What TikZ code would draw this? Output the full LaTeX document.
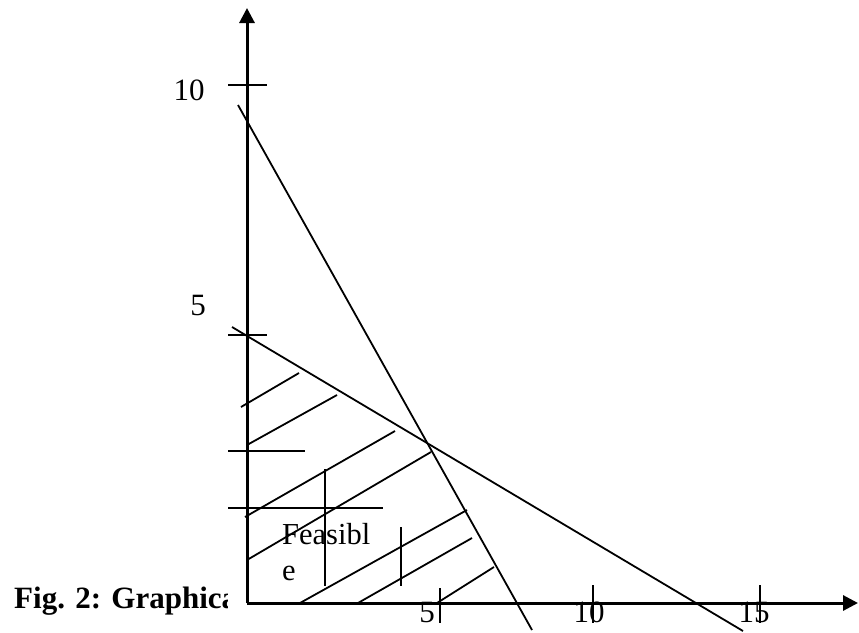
\documentclass[tikz,border=0pt]{standalone}
\usepackage{fontspec}
\setmainfont{Liberation Serif}
\usetikzlibrary{arrows.meta}
\begin{document}
\begin{tikzpicture}[x=1pt,y=-1pt,
  axisline/.style={line width=3pt,-{Triangle[length=15pt,width=15pt]}},
  drawline/.style={line width=1.8pt},
  numlabel/.style={font=\fontsize{31}{37}\selectfont, inner sep=0pt, anchor=base},
  feaslabel/.style={font=\fontsize{30.5}{36}\selectfont, inner sep=0pt, anchor=base west},
  caplabel/.style={font=\fontsize{31}{37}\selectfont\bfseries, inner sep=0pt, anchor=base west}]
\useasboundingbox (0,0) rectangle (859,632);

% axes
\coordinate (O) at (247,603);
\coordinate (Ytop) at (247,8);
\coordinate (Xend) at (858,603);
\draw[axisline] (O) -- (Ytop);
\draw[axisline] (O) -- (Xend);

% y-axis ticks and labels
\coordinate (t10a) at (228,85);  \coordinate (t10b) at (267,85);
\coordinate (t5a) at (228,335);  \coordinate (t5b) at (267,335);
\draw[drawline] (t10a) -- (t10b);
\draw[drawline] (t5a) -- (t5b);
\node[numlabel] (ly10) at (189,100) {10};
\node[numlabel] (ly5) at (198,315) {5};

% x-axis ticks and labels
\coordinate (x5a) at (440,588);  \coordinate (x5b) at (440,623);
\coordinate (x10a) at (593,585); \coordinate (x10b) at (593,623);
\coordinate (x15a) at (760,585); \coordinate (x15b) at (760,623);
\draw[drawline] (x5a) -- (x5b);
\draw[drawline] (x10a) -- (x10b);
\draw[drawline] (x15a) -- (x15b);
\node[numlabel] (lx5) at (427,622) {5};
\node[numlabel] (lx10) at (589,622) {10};
\node[numlabel] (lx15) at (754,622) {15};

% constraint lines
\coordinate (s1) at (238,105); \coordinate (s2) at (532,630);
\coordinate (f1) at (232,327); \coordinate (f2) at (743,631);
\draw[drawline] (s1) -- (s2);
\draw[drawline] (f1) -- (f2);

% extra horizontal and vertical strokes
\coordinate (h1a) at (228,451); \coordinate (h1b) at (305,451);
\coordinate (h2a) at (228,508); \coordinate (h2b) at (383,508);
\coordinate (v1a) at (325,469); \coordinate (v1b) at (325,586);
\coordinate (v2a) at (401,527); \coordinate (v2b) at (401,586);
\draw[drawline] (h1a) -- (h1b);
\draw[drawline] (h2a) -- (h2b);
\draw[drawline] (v1a) -- (v1b);
\draw[drawline] (v2a) -- (v2b);

% hatching
\coordinate (a1) at (241,407); \coordinate (b1) at (299,373);
\coordinate (a2) at (247,445); \coordinate (b2) at (337,395);
\coordinate (a3) at (245,517); \coordinate (b3) at (395,431);
\coordinate (a4) at (247,560); \coordinate (b4) at (431,452);
\coordinate (a5) at (300,603); \coordinate (b5) at (467,510);
\coordinate (a6) at (358,603); \coordinate (b6) at (472,538);
\coordinate (a7) at (437,603); \coordinate (b7) at (494,567);
\foreach \i in {1,...,7} \draw[drawline] (a\i) -- (b\i);

% feasible label
\node[feaslabel] (feas1) at (282,544) {Feasibl};
\node[feaslabel] (feas2) at (282,580) {e};

% caption (clipped at the axis)
\begin{scope}
  \clip (0,560) rectangle (227,632);
  \node[caplabel] (cap) at (14,608) {Fig. 2: Graphica};
\end{scope}
\end{tikzpicture}
\end{document}
